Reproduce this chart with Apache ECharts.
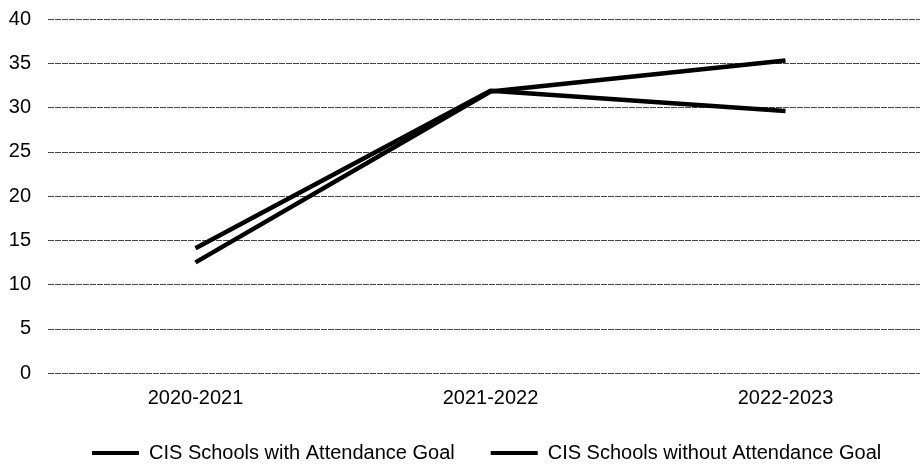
<!DOCTYPE html>
<html>
<head>
<meta charset="utf-8">
<script src="https://cdn.jsdelivr.net/npm/echarts@6/dist/echarts.min.js"></script>
<style>
  html, body { margin: 0; padding: 0; background: #fff; }
  #chart { width: 920px; height: 466px; }
</style>
</head>
<body>
<div id="chart"></div>
<script>
const years = ['2020-2021', '2021-2022', '2022-2023'];
const withGoal = [12.5, 31.8, 35.3];
const withoutGoal = [14.1, 31.9, 29.6];
const yTicks = { min: 0, max: 40, interval: 5 };

const chart = echarts.init(document.getElementById('chart'));

const lineStyle = { color: '#000', width: 4.5 };

chart.setOption({
  animation: false,
  textStyle: { fontFamily: 'Liberation Sans, Arial, sans-serif' },
  grid: { left: 48, top: 19, width: 885, height: 354, outerBoundsMode: 'none', containLabel: false },
  legend: {
    top: 438,
    left: 87,
    itemWidth: 47,
    itemHeight: 4,
    itemGap: 36,
    icon: 'rect',
    textStyle: { fontSize: 20, color: '#000', padding: [0, 0, 0, 5] },
    data: ['CIS Schools with Attendance Goal', 'CIS Schools without Attendance Goal']
  },
  xAxis: {
    type: 'category',
    data: years,
    boundaryGap: true,
    axisLine: { show: false },
    axisTick: { show: false },
    axisLabel: { color: '#000', fontSize: 20, margin: 15 }
  },
  yAxis: {
    type: 'value',
    min: yTicks.min,
    max: yTicks.max,
    interval: yTicks.interval,
    axisLine: { show: false },
    axisTick: { show: false },
    axisLabel: { color: '#000', fontSize: 20, margin: 17 },
    splitLine: { lineStyle: { color: '#444', width: 1, type: [6, 1] } }
  },
  series: [
    {
      name: 'CIS Schools with Attendance Goal',
      type: 'line',
      data: withGoal,
      symbol: 'none',
      itemStyle: { color: '#000' },
      lineStyle: lineStyle
    },
    {
      name: 'CIS Schools without Attendance Goal',
      type: 'line',
      data: withoutGoal,
      symbol: 'none',
      itemStyle: { color: '#000' },
      lineStyle: lineStyle
    }
  ]
});
</script>
</body>
</html>
